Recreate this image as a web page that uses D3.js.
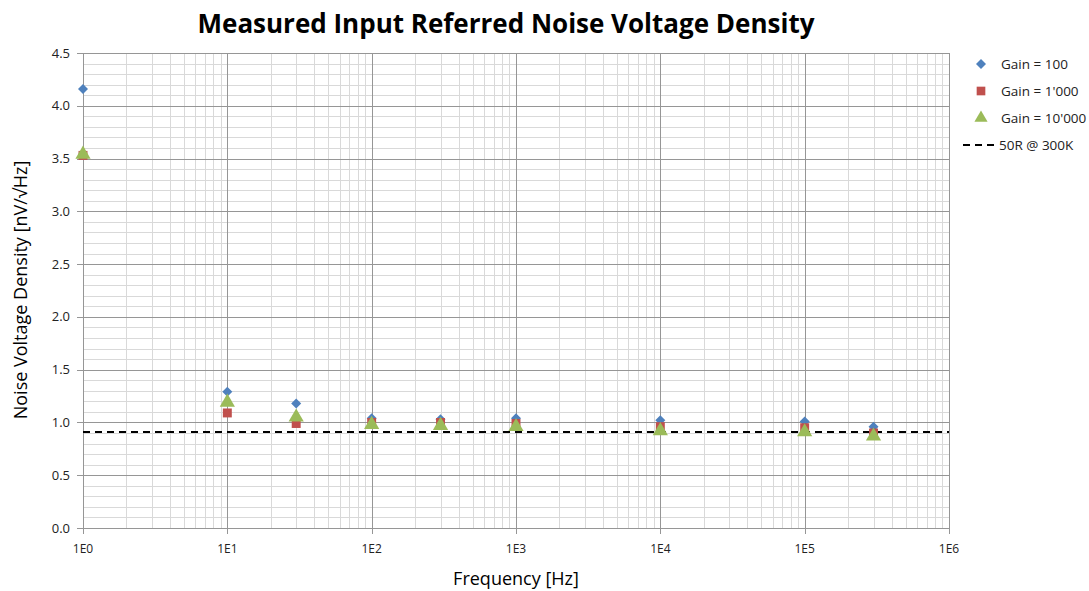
<!DOCTYPE html>
<html><head><meta charset="utf-8">
<script src="https://cdn.jsdelivr.net/npm/d3@7"></script>
<style>body{margin:0;background:#fff}svg{display:block}text{font-family:"Open Sans",Lato,sans-serif}</style>
</head><body><svg id="c" width="1089" height="591"></svg>
<script>
const freqs = [1, 10, 30, 100, 300, 1000, 10000, 100000, 300000];
const gain100 = [4.16, 1.29, 1.18, 1.04, 1.03, 1.04, 1.02, 1.01, 0.96];
const gain1000 = [3.53, 1.09, 0.99, 1.00, 1.00, 0.99, 0.96, 0.95, 0.90];
const gain10000 = [3.54, 1.19, 1.05, 0.98, 0.97, 0.96, 0.92, 0.91, 0.87];
const refLevel = 0.91;
const xTicks = [1, 10, 100, 1000, 10000, 100000, 1000000];
const xTickLabels = ["1E0", "1E1", "1E2", "1E3", "1E4", "1E5", "1E6"];
const yTicks = [0, 0.5, 1, 1.5, 2, 2.5, 3, 3.5, 4, 4.5];
const seriesNames = ["Gain = 100", "Gain = 1'000", "Gain = 10'000", "50R @ 300K"];
const colors = ["#4f81bd", "#c0504d", "#9bbb59"];

const svg = d3.select("#c");
const L = 83, R = 949, T = 53, B = 528;
const x = d3.scaleLog().domain([1, 1e6]).range([L, R]);
const y = d3.scaleLinear().domain([0, 4.5]).range([B, T]);

const g = svg.append("g");
const minorY = d3.range(0, 46).map(i => i / 10).filter(v => Math.round(v * 10) % 5 !== 0);
g.selectAll(".hmin").data(minorY).join("line")
  .attr("x1", L).attr("x2", R).attr("y1", d => Math.round(y(d)) + 0.5).attr("y2", d => Math.round(y(d)) + 0.5)
  .attr("stroke", "#d9d9d9").attr("stroke-width", 1);
const minorX = [];
for (let e = 0; e < 6; e++) for (let m = 2; m <= 9; m++) minorX.push(m * Math.pow(10, e));
g.selectAll(".vmin").data(minorX).join("line")
  .attr("x1", d => Math.round(x(d)) + 0.5).attr("x2", d => Math.round(x(d)) + 0.5).attr("y1", T).attr("y2", B)
  .attr("stroke", "#d9d9d9").attr("stroke-width", 1);
g.selectAll(".hmaj").data(yTicks).join("line")
  .attr("x1", L - 6).attr("x2", R).attr("y1", d => Math.round(y(d)) + 0.5).attr("y2", d => Math.round(y(d)) + 0.5)
  .attr("stroke", "#969696").attr("stroke-width", 1);
g.selectAll(".vmaj").data(xTicks).join("line")
  .attr("x1", d => Math.round(x(d)) + 0.5).attr("x2", d => Math.round(x(d)) + 0.5).attr("y1", T).attr("y2", B + 6)
  .attr("stroke", "#969696").attr("stroke-width", 1);

g.selectAll(".yl").data(yTicks).join("text")
  .attr("x", 70).attr("y", d => y(d)).attr("dy", "0.35em").attr("text-anchor", "end")
  .attr("font-size", 13).attr("fill", "#222").text(d => d.toFixed(1));
g.selectAll(".xl").data(xTicks).join("text")
  .attr("x", d => x(d)).attr("y", 553).attr("text-anchor", "middle")
  .attr("font-size", 12).attr("fill", "#222").text((d, i) => xTickLabels[i]);

g.append("line").attr("x1", L).attr("x2", R).attr("y1", y(refLevel)).attr("y2", y(refLevel))
  .attr("stroke", "#000").attr("stroke-width", 2).attr("stroke-dasharray", "7,5");

const diamond = { draw(ctx, size) { const r = Math.sqrt(size / 2); ctx.moveTo(0, -r); ctx.lineTo(r, 0); ctx.lineTo(0, r); ctx.lineTo(-r, 0); ctx.closePath(); } };
const sym = [diamond, d3.symbolSquare, d3.symbolTriangle];
const sizes = [50, 80, 100];
const legendSizes = [50, 75, 75];
const series = [gain100, gain1000, gain10000];
series.forEach((vals, si) => {
  g.selectAll(".p" + si).data(vals).join("path")
    .attr("transform", (d, i) => `translate(${x(freqs[i])},${y(d)})`)
    .attr("d", d3.symbol().type(sym[si]).size(sizes[si]))
    .attr("fill", colors[si]);
});

svg.append("text").attr("x", 506).attr("y", 33).attr("text-anchor", "middle")
  .attr("font-size", 26).attr("font-weight", "bold").attr("fill", "#000")
  .text("Measured Input Referred Noise Voltage Density");
svg.append("text").attr("x", 516).attr("y", 585).attr("text-anchor", "middle")
  .attr("font-size", 18).attr("fill", "#000").text("Frequency [Hz]");
svg.append("text").attr("transform", "translate(27,290) rotate(-90)").attr("text-anchor", "middle")
  .attr("font-size", 18).attr("fill", "#000").text("Noise Voltage Density [nV/√Hz]");

const lg = svg.append("g");
const ly = [64, 91, 118, 145];
[0, 1, 2].forEach(i => {
  lg.append("path").attr("transform", `translate(981,${ly[i]})`)
    .attr("d", d3.symbol().type(sym[i]).size(legendSizes[i])).attr("fill", colors[i]);
});
lg.append("line").attr("x1", 963).attr("x2", 997).attr("y1", ly[3]).attr("y2", ly[3])
  .attr("stroke", "#000").attr("stroke-width", 2).attr("stroke-dasharray", "7,5");
seriesNames.forEach((s, i) => {
  lg.append("text").attr("x", i === 3 ? 999 : 1001).attr("y", ly[i]).attr("dy", "0.35em")
    .attr("font-size", 13.5).attr("fill", "#222").text(s);
});
</script></body></html>
